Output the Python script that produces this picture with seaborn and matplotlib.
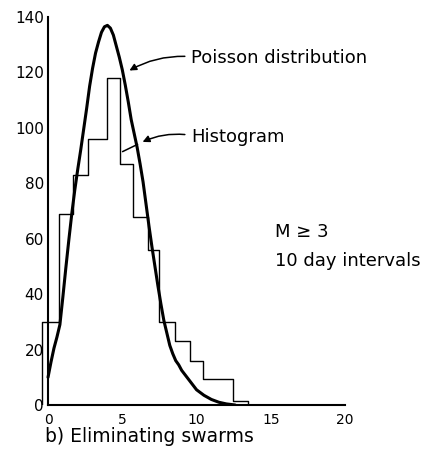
import numpy as np
import pandas as pd
import matplotlib
matplotlib.use("Agg")
import matplotlib.pyplot as plt
import seaborn as sns

# ---- data ----
# histogram: bin edges and heights (zero-height sliver bins at both ends close the outline)
hist_edges = [-0.41, -0.4, 0.73, 1.65, 2.7, 4.0, 4.85, 5.7, 6.7, 7.5, 8.55, 9.56,
              10.45, 11.45, 12.46, 13.47, 13.48]
hist_counts = [0, 30, 69, 83, 96, 118, 87, 68, 56, 30, 23, 16, 9.5, 9.5, 1.5, 0]

# Poisson distribution curve
curve_x = [0, 0.2, 0.4, 0.6, 0.8, 1.0, 1.2, 1.4, 1.6, 1.8, 2.0, 2.2, 2.4, 2.6, 2.8,
           3.0, 3.2, 3.4, 3.6, 3.8, 4.0, 4.2, 4.4, 4.6, 4.8, 5.0, 5.2, 5.4, 5.6, 5.8,
           6.0, 6.2, 6.4, 6.6, 6.8, 7.0, 7.2, 7.4, 7.6, 7.8, 8.0, 8.2, 8.4, 8.6, 8.8,
           9.0, 9.5, 10.0, 10.5, 11.0, 11.5, 12.0, 12.6]
curve_y = [10, 15.5, 20.5, 24.5, 29, 39, 49.5, 59.5, 69, 77.5, 85, 92, 99.5, 107, 115,
           121.5, 127, 131, 134.5, 136.5, 137, 136, 133.5, 129.5, 125.5, 121, 115.5, 109.5, 103, 98,
           93, 87, 80.5, 72.5, 64.5, 57, 50, 43, 36.5, 30.5, 26, 21.5, 18.5, 16, 14.5,
           12.5, 9, 5.5, 3.5, 2, 1, 0.4, 0]

x_ticks = [0, 5, 10, 15, 20]
y_ticks = [0, 20, 40, 60, 80, 100, 120, 140]

sns.set_theme(style="white")
plt.rcParams["font.family"] = ["DejaVu Sans"]

fig = plt.figure(figsize=(4.26, 4.70), dpi=100)
ax = fig.add_axes([0.0953, 0.1383, 0.7251, 0.8372])

centers = [(a + b) / 2 for a, b in zip(hist_edges[:-1], hist_edges[1:])]
hist_df = pd.DataFrame({"x": centers, "w": hist_counts})
sns.histplot(data=hist_df, x="x", weights="w", bins=hist_edges, element="step",
             fill=False, color="black", linewidth=1.0, ax=ax)

curve_df = pd.DataFrame({"x": curve_x, "y": curve_y})
sns.lineplot(data=curve_df, x="x", y="y", color="black", linewidth=2.2, ax=ax, sort=False)
for ln in ax.get_lines():
    ln.set_solid_joinstyle("round")
    ln.set_solid_capstyle("round")

ax.set_xlim(-0.5, 20.3)
ax.set_ylim(0, 142)
ax.set_xlabel("")
ax.set_ylabel("")
ax.set_xticks(x_ticks)
ax.set_yticks(y_ticks)
ax.set_xticklabels([str(t) for t in x_ticks], fontsize=10)
ax.set_yticklabels([str(t) for t in y_ticks], fontsize=10)

for s in ["top", "right"]:
    ax.spines[s].set_visible(False)
ax.spines["left"].set_position(("data", 0))
ax.spines["left"].set_bounds(0, 140)
ax.spines["bottom"].set_bounds(0, 20)
for s in ["left", "bottom"]:
    ax.spines[s].set_color("black")
    ax.spines[s].set_linewidth(1.5)

ax.tick_params(axis="x", direction="in", length=7.5, width=1.2, color="black", pad=6, labelcolor="black")
ax.tick_params(axis="y", length=0, pad=3, labelcolor="black")

txt_kw = dict(fontsize=13, color="black", va="center", ha="left")
ax.text(9.66, 125.2, "Poisson distribution", **txt_kw)
ax.text(9.66, 96.7, "Histogram", **txt_kw)
ax.text(15.29, 62.5, "M \u2265 3", **txt_kw)
ax.text(15.29, 52.0, "10 day intervals", **txt_kw)

ax.annotate("", xy=(5.32, 120.2), xytext=(9.4, 125.8),
            arrowprops=dict(arrowstyle="-|>", color="black", lw=1.1,
                            connectionstyle="arc3,rad=0.15", mutation_scale=10))
ax.annotate("", xy=(6.2, 94.5), xytext=(9.4, 97.5),
            arrowprops=dict(arrowstyle="-|>", color="black", lw=1.1,
                            connectionstyle="arc3,rad=0.15", mutation_scale=10))
ax.annotate("", xy=(4.85, 91), xytext=(6.2, 94.5),
            arrowprops=dict(arrowstyle="-", color="black", lw=1.1))

fig.text(45 / 426, 1 - 437 / 470, "b) Eliminating swarms", fontsize=13.5,
         color="black", va="center", ha="left")

fig.savefig("out.png", dpi=100, facecolor="white")
